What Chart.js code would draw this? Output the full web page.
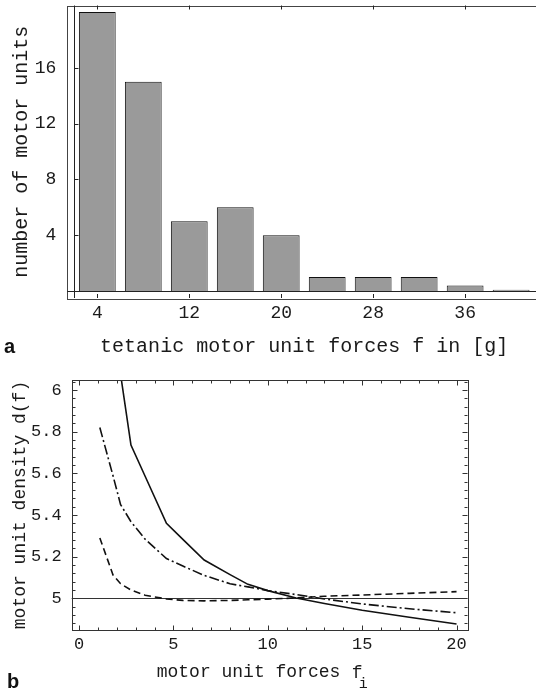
<!DOCTYPE html>
<html>
<head>
<meta charset="utf-8">
<script src="https://cdn.jsdelivr.net/npm/chart.js@4.4.1/dist/chart.umd.min.js"></script>
<style>
html, body { margin: 0; padding: 0; background: #fff; overflow: hidden; width: 536px; height: 690px; }
canvas { position: absolute; left: 0; }
#histo { top: 0; }
#density { top: 360px; }
.panel { position: absolute; font-family: "Liberation Sans", Arial, sans-serif; font-weight: bold; font-size: 20px; color: #111; }
</style>
</head>
<body>
<canvas id="histo" width="545" height="360"></canvas>
<canvas id="density" width="536" height="330"></canvas>
<div class="panel" style="left:4px; top:335px;">a</div>
<div class="panel" style="left:7px; top:670px;">b</div>
<script>
// panel a: histogram of tetanic forces
const forceBins = [4, 8, 12, 16, 20, 24, 28, 32, 36, 40];
const unitCounts = [20, 15, 5, 6, 4, 1, 1, 1, 0.4, 0.1];
const histXTicks = [4, 12, 20, 28, 36];
const histYTicks = [4, 8, 12, 16];
const HIST_AXIS_X = 2;

// panel b: motor unit density curves
const forces = [1.1, 1.8, 2.2, 2.75, 3.5, 4.63, 5.5, 6.63, 8, 8.95, 10, 11.5, 13, 15, 17.5, 20];
const densitySolid = [6.65, 6.28, 6.075, 5.736, 5.586, 5.36, 5.283, 5.184, 5.114, 5.067, 5.037, 5.002, 4.975, 4.943, 4.909, 4.877];
const densityDashDot = [5.82, 5.588, 5.45, 5.368, 5.284, 5.191, 5.155, 5.11, 5.07, 5.055, 5.037, 5.018, 4.997, 4.973, 4.95, 4.931];
const densityDashed = [5.29, 5.112, 5.07, 5.04, 5.015, 4.997, 4.99, 4.988, 4.99, 4.993, 4.996, 5.002, 5.01, 5.016, 5.024, 5.032];
const densityXTicks = [0, 5, 10, 15, 20];
const densityYTicks = [5, 5.2, 5.4, 5.6, 5.8, 6];
const REF_LEVEL = 5;

const MONO = '"Liberation Mono", "DejaVu Sans Mono", monospace';
const INK = '#1a1a1a';

function seg(ctx, x1, y1, x2, y2) {
    ctx.beginPath();
    ctx.moveTo(x1, y1);
    ctx.lineTo(x2, y2);
    ctx.stroke();
}

// keep chart.js from reserving room for half-labels at the ends
function noPad(s) {
    s.paddingTop = 0;
    s.paddingBottom = 0;
    s.paddingLeft = 0;
    s.paddingRight = 0;
}

const histFrame = {
    id: 'histFrame',
    afterDatasetsDraw(chart) {
        const { ctx, chartArea: a, scales: { x, y } } = chart;
        ctx.save();
        ctx.strokeStyle = '#444';
        ctx.lineWidth = 1;
        ctx.strokeRect(Math.round(a.left) + 0.5, Math.round(a.top) + 0.5, a.right - a.left, Math.round(a.bottom - a.top));
        const x0 = Math.round(x.getPixelForValue(HIST_AXIS_X)) + 0.5;
        const y0 = Math.round(y.getPixelForValue(0)) + 0.5;
        ctx.strokeStyle = '#222';
        seg(ctx, a.left, y0, a.right, y0);
        seg(ctx, x0, a.top, x0, a.bottom);
        histXTicks.forEach(v => {
            const px = Math.round(x.getPixelForValue(v)) + 0.5;
            seg(ctx, px, a.bottom, px, a.bottom - 4);
            seg(ctx, px, a.top, px, a.top + 4);
        });
        histYTicks.forEach(v => {
            const py = Math.round(y.getPixelForValue(v)) + 0.5;
            seg(ctx, x0, py, x0 + 4, py);
        });
        ctx.restore();
    }
};

new Chart(document.getElementById('histo'), {
    type: 'bar',
    data: {
        datasets: [{
            data: forceBins.map((f, i) => ({ x: f, y: unitCounts[i] })),
            backgroundColor: '#9a9a9a',
            borderColor: '#111',
            borderWidth: 1,
            barPercentage: 0.8,
            categoryPercentage: 1
        }]
    },
    options: {
        responsive: false,
        animation: false,
        devicePixelRatio: 1,
        layout: { padding: { top: 5.5, right: 4, left: 0, bottom: 0 } },
        plugins: { legend: { display: false }, tooltip: { enabled: false } },
        scales: {
            x: {
                type: 'linear', min: 1.39, max: 42.6, offset: false,
                grid: { display: false, drawTicks: false },
                border: { display: false },
                afterBuildTicks: s => { s.ticks = histXTicks.map(v => ({ value: v })); },
                afterFit: s => { s.height = 62; noPad(s); },
                ticks: { font: { family: MONO, size: 18 }, color: INK, padding: 4, maxRotation: 0, autoSkip: false },
                title: { display: true, text: 'tetanic motor unit forces f in [g]', font: { family: MONO, size: 20 }, color: INK, padding: { top: 0, bottom: 1 } }
            },
            y: {
                min: -0.5, max: 20.47,
                grid: { display: false, drawTicks: false },
                border: { display: false },
                afterBuildTicks: s => { s.ticks = histYTicks.map(v => ({ value: v })); },
                afterFit: s => { s.width = 67.3; noPad(s); },
                ticks: { font: { family: MONO, size: 18 }, color: INK, padding: 11 },
                title: { display: true, text: 'number of motor units', font: { family: MONO, size: 20 }, color: INK, padding: { top: 10, bottom: 0 } }
            }
        }
    },
    plugins: [histFrame]
});

const densityFrame = {
    id: 'densityFrame',
    beforeDatasetsDraw(chart) {
        const { ctx, chartArea: a, scales: { y } } = chart;
        const py = Math.round(y.getPixelForValue(REF_LEVEL)) + 0.5;
        ctx.save();
        ctx.strokeStyle = '#333';
        ctx.lineWidth = 1;
        seg(ctx, a.left, py, a.right, py);
        ctx.restore();
    },
    afterDatasetsDraw(chart) {
        const { ctx, chartArea: a, scales: { x, y } } = chart;
        ctx.save();
        ctx.strokeStyle = '#333';
        ctx.lineWidth = 1;
        ctx.strokeRect(Math.round(a.left) + 0.5, Math.round(a.top) + 0.5, Math.round(a.right - a.left), Math.round(a.bottom - a.top));
        const L = Math.round(a.left) + 0.5, R = Math.round(a.right) + 0.5;
        const T = Math.round(a.top) + 0.5, B = Math.round(a.bottom) + 0.5;
        for (let v = 0; v <= 20; v += 1) {
            const len = densityXTicks.includes(v) ? 5 : 3;
            const px = Math.round(x.getPixelForValue(v)) + 0.5;
            seg(ctx, px, B, px, B - len);
            seg(ctx, px, T, px, T + len);
        }
        for (let k = 0; k <= 29; k++) {
            const v = 4.88 + k * 0.04;
            const major = densityYTicks.some(t => Math.abs(t - v) < 1e-6);
            const len = major ? 5 : 3;
            const py = Math.round(y.getPixelForValue(v)) + 0.5;
            seg(ctx, L, py, L + len, py);
            seg(ctx, R, py, R - len, py);
        }
        // axis title with subscript, placed under the plot frame
        ctx.fillStyle = INK;
        ctx.font = '18px ' + MONO;
        ctx.textBaseline = 'middle';
        ctx.textAlign = 'left';
        ctx.fillText('motor unit forces', a.left + 85, a.bottom + 42);
        ctx.fillText('f', a.left + 280, a.bottom + 43);
        ctx.font = '15px ' + MONO;
        ctx.fillText('i', a.left + 287, a.bottom + 54);
        ctx.restore();
    }
};

const curve = (vals, dash) => ({
    data: forces.map((f, i) => ({ x: f, y: vals[i] })),
    borderColor: '#111',
    borderWidth: 1.6,
    borderDash: dash,
    pointRadius: 0,
    tension: 0,
    fill: false
});

new Chart(document.getElementById('density'), {
    type: 'line',
    data: {
        datasets: [
            curve(densitySolid, []),
            curve(densityDashDot, [10, 3, 2, 3]),
            curve(densityDashed, [7, 4])
        ]
    },
    options: {
        responsive: false,
        animation: false,
        devicePixelRatio: 1,
        layout: { padding: { top: 20, right: 68.7, left: 0, bottom: 0 } },
        plugins: { legend: { display: false }, tooltip: { enabled: false } },
        scales: {
            x: {
                type: 'linear', min: -0.39, max: 20.57,
                grid: { display: false, drawTicks: false },
                border: { display: false },
                afterBuildTicks: s => { s.ticks = densityXTicks.map(v => ({ value: v })); },
                afterFit: s => { s.height = 60; noPad(s); },
                ticks: { font: { family: MONO, size: 17 }, color: INK, padding: 4, maxRotation: 0, autoSkip: false }
            },
            y: {
                min: 4.848, max: 6.048,
                grid: { display: false, drawTicks: false },
                border: { display: false },
                afterBuildTicks: s => { s.ticks = densityYTicks.map(v => ({ value: v })); },
                afterFit: s => { s.width = 71.7; noPad(s); },
                ticks: { font: { family: MONO, size: 17 }, color: INK, padding: 10, callback: v => String(v) },
                title: { display: true, text: 'motor unit density d(f)', font: { family: MONO, size: 18 }, color: INK, padding: { top: 9, bottom: 0 } }
            }
        }
    },
    plugins: [densityFrame]
});
</script>
</body>
</html>
